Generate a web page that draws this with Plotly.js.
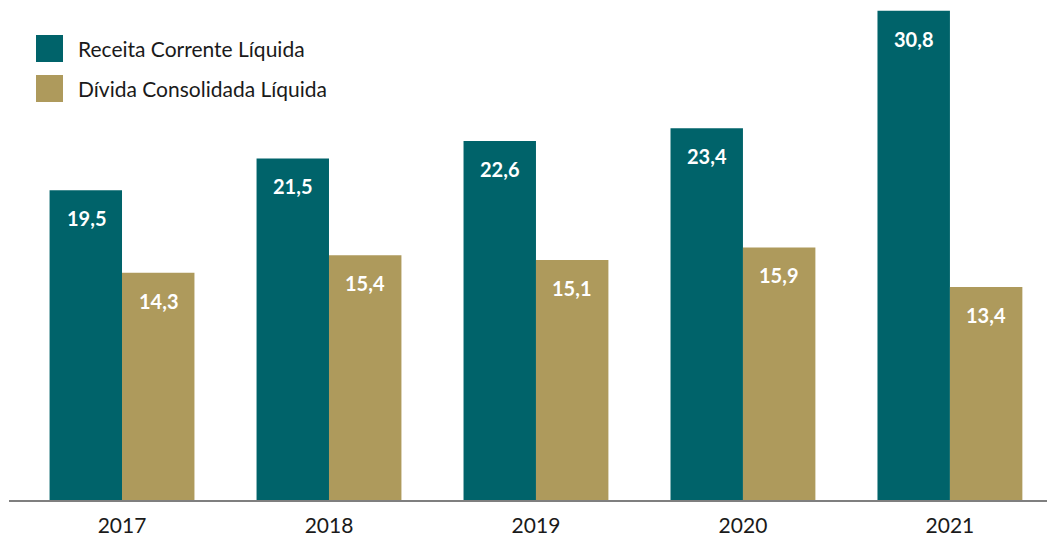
<!DOCTYPE html>
<html>
<head>
<meta charset="utf-8">
<script src="https://cdn.plot.ly/plotly-3.0.1.min.js"></script>
<style>
html,body{margin:0;padding:0;background:#fff;}
#chart{width:1047px;height:538px;}
</style>
</head>
<body>
<div id="chart"></div>
<script>
const years = ['2017', '2018', '2019', '2020', '2021'];
const seriesNames = ['Receita Corrente Líquida', 'Dívida Consolidada Líquida'];
const receita = [19.5, 21.5, 22.6, 23.4, 30.8];
const divida = [14.3, 15.4, 15.1, 15.9, 13.4];

const teal = '#00636A';
const gold = '#AE9A5C';
const font = 'Lato, "Open Sans", sans-serif';

const traces = [
  {type: 'bar', name: seriesNames[0], x: years, y: receita, marker: {color: teal, line: {width: 0}}, hoverinfo: 'none'},
  {type: 'bar', name: seriesNames[1], x: years, y: divida, marker: {color: gold, line: {width: 0}}, hoverinfo: 'none'}
];

const fmt = v => v.toFixed(1).replace('.', ',');
const annotations = [];
years.forEach((yr, i) => {
  annotations.push({x: i, y: receita[i], xref: 'x', yref: 'y', text: '<b>' + fmt(receita[i]) + '</b>', showarrow: false,
    xshift: -36, yshift: -28, font: {family: font, size: 20, color: '#ffffff'}});
  annotations.push({x: i, y: divida[i], xref: 'x', yref: 'y', text: '<b>' + fmt(divida[i]) + '</b>', showarrow: false,
    xshift: 36, yshift: -28, font: {family: font, size: 20, color: '#ffffff'}});
});

// custom legend (pixel placement via paper coords)
const W = 1047, H = 538;
const ml = 9, mr = 0, mt = 0, mb = 38;
const pw = W - ml - mr, ph = H - mt - mb;
const px = x => (x - ml) / pw;
const py = y => 1 - (y - mt) / ph;
const shapes = [];
const legendColors = [teal, gold];
seriesNames.forEach((nm, k) => {
  const top = 35 + k * 40;
  shapes.push({type: 'rect', xref: 'paper', yref: 'paper', x0: px(36), x1: px(63), y0: py(top + 27), y1: py(top),
    fillcolor: legendColors[k], line: {width: 0}});
  annotations.push({xref: 'paper', yref: 'paper', x: px(76), y: py(top + 13.5), xanchor: 'left', yanchor: 'middle',
    text: nm, showarrow: false, font: {family: font, size: 21, color: '#1a1a1a'}});
});

const layout = {
  width: W, height: H,
  margin: {l: ml, r: mr, t: mt, b: mb, pad: 0},
  paper_bgcolor: '#ffffff', plot_bgcolor: '#ffffff',
  barmode: 'group', bargap: 0.3, bargroupgap: 0,
  showlegend: false,
  separators: ',.',
  font: {family: font, color: '#1a1a1a'},
  xaxis: {type: 'category', range: [-0.546, 4.469], showline: true, linecolor: '#7f7f7f', linewidth: 2,
    ticks: '', showgrid: false, zeroline: false, tickfont: {family: font, size: 21, color: '#1a1a1a'}, ticklabelstandoff: 6, fixedrange: true},
  yaxis: {range: [0, 31.47], visible: false, showgrid: false, zeroline: false, fixedrange: true},
  annotations: annotations,
  shapes: shapes
};

Plotly.newPlot('chart', traces, layout, {displayModeBar: false, staticPlot: true});
</script>
</body>
</html>
